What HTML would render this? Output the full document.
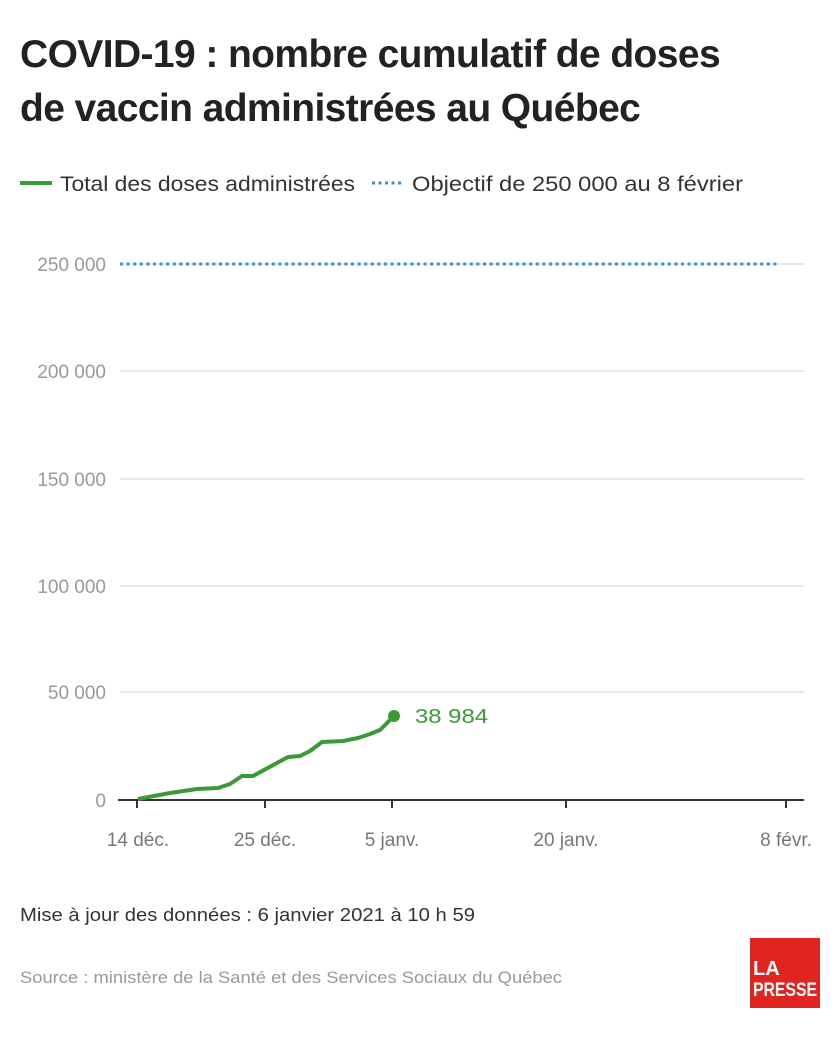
<!DOCTYPE html>
<html><head><meta charset="utf-8"><style>
body{margin:0;width:840px;height:1040px;background:#fff;font-family:"Liberation Sans",sans-serif;position:relative;overflow:hidden}
.t{position:absolute;left:20px;top:28px;font-size:39px;font-weight:bold;color:#222;line-height:54px;letter-spacing:-0.6px}
</style></head><body>
<div class="t">COVID-19 : nombre cumulatif de doses<br>de vaccin administrées au Québec</div>
<svg width="840" height="1040" style="position:absolute;left:0;top:0" font-family="Liberation Sans, sans-serif">
<line x1="20" y1="183" x2="52" y2="183" stroke="#3a9a35" stroke-width="4"/>
<text x="60" y="191" font-size="21" fill="#333" textLength="295" lengthAdjust="spacingAndGlyphs">Total des doses administrées</text>
<line x1="372" y1="183" x2="404" y2="183" stroke="#3a8fcf" stroke-width="3" stroke-dasharray="3,3.5"/>
<text x="412" y="191" font-size="21" fill="#333" textLength="331" lengthAdjust="spacingAndGlyphs">Objectif de 250 000 au 8 février</text>
<g stroke="#e2e2e2" stroke-width="1.5">
<line x1="120" y1="264" x2="804" y2="264"/><line x1="120" y1="371" x2="804" y2="371"/><line x1="120" y1="479" x2="804" y2="479"/><line x1="120" y1="586" x2="804" y2="586"/><line x1="120" y1="692" x2="804" y2="692"/></g>
<g font-size="19" fill="#999" text-anchor="end">
<text x="106" y="271">250 000</text><text x="106" y="378">200 000</text><text x="106" y="486">150 000</text><text x="106" y="593">100 000</text><text x="106" y="699">50 000</text><text x="106" y="807">0</text></g>
<line x1="120" y1="264" x2="780" y2="264" stroke="#3a8fcf" stroke-width="3" stroke-dasharray="3,3.6"/>
<line x1="118" y1="800" x2="804" y2="800" stroke="#333" stroke-width="2"/>
<g stroke="#333" stroke-width="2"><line x1="137" y1="800" x2="137" y2="808"/><line x1="265" y1="800" x2="265" y2="808"/><line x1="392" y1="800" x2="392" y2="808"/><line x1="566" y1="800" x2="566" y2="808"/><line x1="786" y1="800" x2="786" y2="808"/></g>
<g font-size="19" fill="#777" text-anchor="middle">
<text x="138" y="846">14 déc.</text><text x="265" y="846">25 déc.</text><text x="392" y="846">5 janv.</text><text x="566" y="846">20 janv.</text><text x="786" y="846">8 févr.</text></g>
<polyline fill="none" stroke="#3a9a35" stroke-width="4" stroke-linejoin="round" points="138,799 170,793 197,789 218,788 230,784 242,776 253,776 288,757 300,756 310,751 322,742 343,741 358,738 370,734 380,730 394,716"/>
<circle cx="394" cy="716" r="6" fill="#3a9a35"/>
<text x="415" y="723" font-size="20" fill="#3a9a35" textLength="73" lengthAdjust="spacingAndGlyphs">38 984</text>
<text x="20" y="921" font-size="18" fill="#333" textLength="455" lengthAdjust="spacingAndGlyphs">Mise à jour des données : 6 janvier 2021 à 10 h 59</text>
<text x="20" y="983" font-size="17" fill="#999" textLength="542" lengthAdjust="spacingAndGlyphs">Source : ministère de la Santé et des Services Sociaux du Québec</text>
<rect x="750" y="938" width="70" height="70" fill="#e2241f"/>
<text x="753" y="975" font-size="20" font-weight="bold" fill="#fff">LA</text>
<text x="753" y="996" font-size="19" font-weight="bold" fill="#fff" textLength="64" lengthAdjust="spacingAndGlyphs">PRESSE</text>
</svg>
</body></html>
